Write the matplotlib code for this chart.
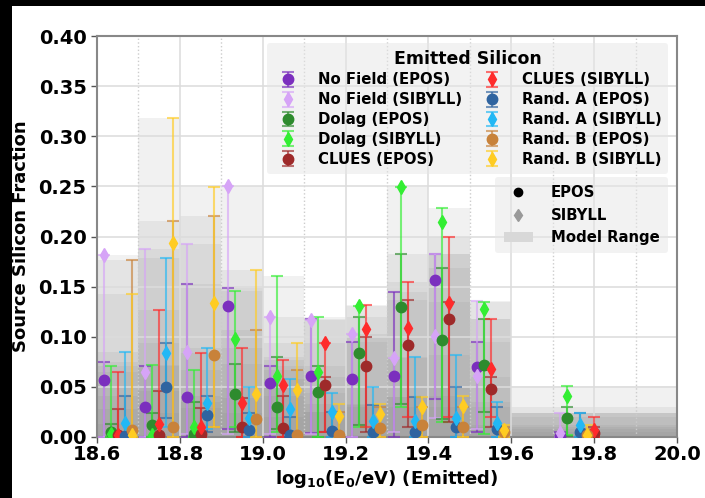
import numpy as np
import matplotlib
matplotlib.use("Agg")
import matplotlib.pyplot as plt
from matplotlib.patches import Rectangle, Patch
from matplotlib.lines import Line2D

plt.rcParams['font.family'] = 'DejaVu Sans'
plt.rcParams['font.weight'] = 'bold'

# energy bins (log10 E / eV): lower edges, upper edges, and where points start
bin_lo = [18.6, 18.7, 18.8, 18.9, 19.0, 19.1, 19.2, 19.3, 19.4, 19.5, 19.6]
bin_hi = [18.7, 18.8, 18.9, 19.0, 19.1, 19.2, 19.3, 19.4, 19.5, 19.6, 20.0]
point_base = [18.6, 18.7, 18.8, 18.9, 19.0, 19.1, 19.2, 19.3, 19.4, 19.5, 19.7]
clues_base = [18.6, 18.7, 18.8, 18.9, 19.0, 19.1, 19.2, 19.3, 19.4, 19.5, 19.75]

# silicon fraction per bin: value, lower bound, upper bound
nf_epos = [0.057, 0.030, 0.040, 0.131, 0.054, 0.061, 0.058, 0.061, 0.157, 0.070, 0.001]
nf_epos_lo = [0.000, 0.000, 0.000, 0.008, 0.000, 0.004, 0.000, 0.000, 0.038, 0.005, 0.000]
nf_epos_hi = [0.075, 0.071, 0.153, 0.149, 0.071, 0.118, 0.095, 0.145, 0.183, 0.095, 0.005]

nf_sib = [0.182, 0.065, 0.085, 0.250, 0.120, 0.117, 0.103, 0.079, 0.101, 0.061, 0.004]
nf_sib_lo = [0.000, 0.000, 0.003, 0.003, 0.003, 0.003, 0.000, 0.005, 0.019, 0.008, 0.000]
nf_sib_hi = [0.182, 0.188, 0.193, 0.250, 0.120, 0.117, 0.103, 0.079, 0.183, 0.136, 0.024]

dol_epos = [0.005, 0.012, 0.003, 0.043, 0.030, 0.045, 0.084, 0.130, 0.097, 0.072, 0.019]
dol_epos_lo = [0.000, 0.000, 0.000, 0.005, 0.008, 0.000, 0.012, 0.033, 0.018, 0.025, 0.001]
dol_epos_hi = [0.013, 0.024, 0.035, 0.073, 0.080, 0.071, 0.120, 0.183, 0.169, 0.118, 0.030]

dol_sib = [0.003, 0.002, 0.010, 0.098, 0.061, 0.065, 0.131, 0.249, 0.214, 0.128, 0.041]
dol_sib_lo = [0.000, 0.000, 0.000, 0.010, 0.005, 0.000, 0.010, 0.030, 0.015, 0.003, 0.002]
dol_sib_hi = [0.071, 0.072, 0.067, 0.146, 0.161, 0.120, 0.131, 0.249, 0.228, 0.135, 0.051]

cl_epos = [0.002, 0.002, 0.003, 0.010, 0.009, 0.052, 0.071, 0.092, 0.118, 0.048, 0.004]
cl_epos_lo = [0.000, 0.000, 0.000, 0.000, 0.000, 0.005, 0.005, 0.010, 0.015, 0.010, 0.000]
cl_epos_hi = [0.028, 0.046, 0.029, 0.039, 0.041, 0.060, 0.100, 0.137, 0.135, 0.060, 0.010]

cl_sib = [0.002, 0.013, 0.010, 0.034, 0.052, 0.094, 0.108, 0.109, 0.134, 0.068, 0.007]
cl_sib_lo = [0.000, 0.000, 0.000, 0.000, 0.000, 0.005, 0.010, 0.020, 0.020, 0.020, 0.000]
cl_sib_hi = [0.065, 0.127, 0.084, 0.089, 0.077, 0.094, 0.132, 0.155, 0.200, 0.118, 0.020]

ra_epos = [0.001, 0.050, 0.022, 0.007, 0.002, 0.006, 0.005, 0.005, 0.010, 0.008, 0.005]
ra_epos_lo = [0.000, 0.019, 0.005, 0.000, 0.000, 0.000, 0.000, 0.000, 0.000, 0.000, 0.000]
ra_epos_hi = [0.041, 0.094, 0.041, 0.024, 0.020, 0.025, 0.032, 0.040, 0.050, 0.030, 0.024]

ra_sib = [0.014, 0.084, 0.034, 0.019, 0.028, 0.025, 0.016, 0.016, 0.019, 0.014, 0.012]
ra_sib_lo = [0.000, 0.010, 0.008, 0.000, 0.003, 0.000, 0.000, 0.000, 0.000, 0.000, 0.000]
ra_sib_hi = [0.085, 0.179, 0.089, 0.050, 0.058, 0.044, 0.050, 0.080, 0.082, 0.035, 0.024]

rb_epos = [0.007, 0.010, 0.082, 0.018, 0.002, 0.002, 0.009, 0.012, 0.010, 0.005, 0.002]
rb_epos_lo = [0.000, 0.000, 0.010, 0.000, 0.000, 0.000, 0.000, 0.000, 0.000, 0.000, 0.000]
rb_epos_hi = [0.177, 0.215, 0.220, 0.107, 0.067, 0.025, 0.030, 0.030, 0.030, 0.010, 0.008]

rb_sib = [0.002, 0.194, 0.134, 0.043, 0.047, 0.021, 0.023, 0.030, 0.031, 0.007, 0.002]
rb_sib_lo = [0.000, 0.000, 0.010, 0.000, 0.000, 0.000, 0.000, 0.000, 0.000, 0.000, 0.000]
rb_sib_hi = [0.143, 0.318, 0.249, 0.167, 0.094, 0.033, 0.033, 0.040, 0.041, 0.012, 0.012]

series = [
    ('No Field (EPOS)', nf_epos, nf_epos_lo, nf_epos_hi, '#7b2fbe', 'o', 0, point_base),
    ('No Field (SIBYLL)', nf_sib, nf_sib_lo, nf_sib_hi, '#d6a4f7', 'd', 0, point_base),
    ('Dolag (EPOS)', dol_epos, dol_epos_lo, dol_epos_hi, '#2e8b2e', 'o', 1, point_base),
    ('Dolag (SIBYLL)', dol_sib, dol_sib_lo, dol_sib_hi, '#33ee33', 'd', 1, point_base),
    ('CLUES (EPOS)', cl_epos, cl_epos_lo, cl_epos_hi, '#9e2a2a', 'o', 2, clues_base),
    ('CLUES (SIBYLL)', cl_sib, cl_sib_lo, cl_sib_hi, '#ff2b2b', 'd', 2, clues_base),
    ('Rand. A (EPOS)', ra_epos, ra_epos_lo, ra_epos_hi, '#2f64a0', 'o', 3, point_base),
    ('Rand. A (SIBYLL)', ra_sib, ra_sib_lo, ra_sib_hi, '#22b8f5', 'd', 3, point_base),
    ('Rand. B (EPOS)', rb_epos, rb_epos_lo, rb_epos_hi, '#c8823a', 'o', 4, point_base),
    ('Rand. B (SIBYLL)', rb_sib, rb_sib_lo, rb_sib_hi, '#ffcc22', 'd', 4, point_base),
]

fig = plt.figure(figsize=(7.05, 4.98), dpi=100, facecolor='black')
fig.patches.append(Rectangle((12 / 705, 0), 1, 1 - 6 / 498, transform=fig.transFigure,
                             facecolor='white', edgecolor='none', zorder=-1))
ax = fig.add_axes([0.1376, 0.1225, 0.8227, 0.8052])

lo_edges = np.array(bin_lo)
widths = np.array(bin_hi) - lo_edges

handles = []
for label, val, lo, hi, color, marker, k, xb in series:
    val = np.array(val)
    lo = np.array(lo)
    hi = np.array(hi)
    # model range band for this series
    ax.bar(lo_edges, hi, width=widths, align='edge', color='#808080', alpha=0.11,
           edgecolor='none', zorder=0.8)
    x = np.array(xb) + (k + 1) / 60
    eb = ax.errorbar(x, val, yerr=[val - lo, hi - val], fmt=marker, color=color,
                     ms=7.5, elinewidth=1.5, capsize=4, capthick=1.5, ecolor=color,
                     label=label, zorder=3)
    for part in eb[1] + eb[2]:
        part.set_alpha(0.65)
    handles.append(eb)

ax.set_xlim(18.6, 20.0)
ax.set_ylim(0, 0.40)
ax.set_xticks(np.arange(18.6, 20.01, 0.2))
ax.set_xticks(np.arange(18.7, 20.0, 0.2), minor=True)
ax.set_yticks(np.arange(0, 0.401, 0.05))
ax.tick_params(axis='both', which='major', labelsize=14, colors='#555555', labelcolor='black',
               length=4, width=1)
ax.tick_params(axis='x', which='major', pad=1.5)
ax.tick_params(axis='x', which='minor', length=0)
for t in ax.get_xticklabels() + ax.get_yticklabels():
    t.set_fontweight('bold')
ax.set_axisbelow('line')
ax.grid(True, which='major', color='#dcdcdc', linewidth=1.4, alpha=0.8)
ax.grid(True, which='minor', axis='x', color='#cccccc', linestyle=':', linewidth=1)
for s in ax.spines.values():
    s.set_color('#888888')
    s.set_linewidth(1.5)

ax.set_xlabel(r'log$_\mathbf{10}$(E$_\mathbf{0}$/eV) (Emitted)', fontsize=13, fontweight='bold',
              labelpad=3)
ax.set_ylabel('Source Silicon Fraction', fontsize=13, fontweight='bold', labelpad=6)

leg1 = ax.legend(handles=handles, ncol=2, loc='upper right', bbox_to_anchor=(0.9845, 0.983),
                 borderaxespad=0,
                 title='Emitted Silicon', title_fontproperties={'weight': 'bold', 'size': 12.5},
                 prop={'weight': 'bold', 'size': 10.7}, frameon=True, facecolor='#e6e6e6',
                 edgecolor='none', framealpha=0.5, handletextpad=1.0, columnspacing=1.0,
                 labelspacing=0.33, borderpad=0.45)
ax.add_artist(leg1)

extra = [
    Line2D([], [], marker='o', color='black', linestyle='none', ms=6),
    Line2D([], [], marker='d', color='#999999', linestyle='none', ms=6),
    Patch(facecolor='#d8d8d8', edgecolor='none'),
]
ax.legend(extra, ['EPOS', 'SIBYLL', 'Model Range'], loc='upper right',
          bbox_to_anchor=(0.9845, 0.648), borderaxespad=0,
          prop={'weight': 'bold', 'size': 10.7},
          facecolor='#e6e6e6', edgecolor='none', framealpha=0.5, handletextpad=1.2,
          labelspacing=0.5, borderpad=0.55)

fig.savefig('out.png', dpi=100, facecolor=fig.get_facecolor())
